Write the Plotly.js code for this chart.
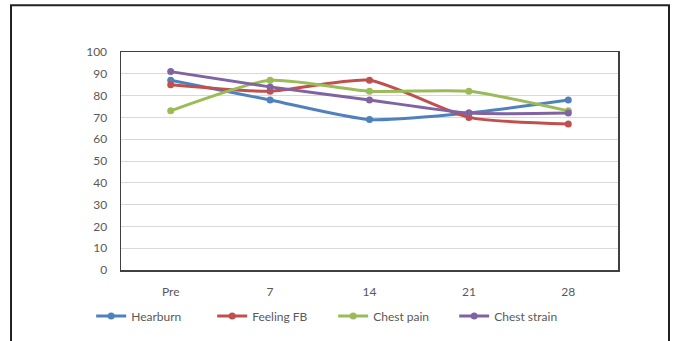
<!DOCTYPE html>
<html>
<head>
<meta charset="utf-8">
<script src="https://cdn.plot.ly/plotly-3.0.1.min.js"></script>
<style>
html,body{margin:0;padding:0;background:#fff;}
#chart{width:675px;height:341px;}
</style>
</head>
<body>
<div id="chart"></div>
<script>
const categories = ["Pre", "7", "14", "21", "28"];
const hearburn = [87, 78, 69, 72, 78];
const feelingFB = [85, 82, 87, 70, 67];
const chestPain = [73, 87, 82, 82, 73];
const chestStrain = [91, 84, 78, 72, 72];
const seriesNames = ["Hearburn", "Feeling FB", "Chest pain", "Chest strain"];
const seriesColors = ["#4F81BD", "#C0504D", "#9BBB59", "#8064A2"];
const seriesValues = [hearburn, feelingFB, chestPain, chestStrain];

const traces = seriesValues.map((vals, i) => ({
  type: "scatter",
  mode: "lines+markers",
  x: categories,
  y: vals,
  name: seriesNames[i],
  line: {color: seriesColors[i], width: 3, shape: "spline", smoothing: 0.6},
  marker: {color: seriesColors[i], size: 7}
}));

const layout = {
  width: 675, height: 341,
  margin: {l: 121, r: 57, t: 52, b: 70},
  paper_bgcolor: "#fff", plot_bgcolor: "#fff",
  font: {family: "Lato, 'Open Sans', sans-serif", size: 12, color: "#595959"},
  showlegend: true,
  legend: {orientation: "h", x: -0.06, xanchor: "left", y: -0.205, yanchor: "middle",
           font: {size: 12, color: "#595959"}, itemwidth: 30, entrywidth: 76, tracegroupgap: 0},
  xaxis: {type: "category", range: [-0.5, 4.5], showgrid: false, zeroline: false, showline: true, mirror: true,
          linecolor: "#404040", linewidth: 1.5, ticks: "", ticklabelstandoff: 10},
  yaxis: {range: [0, 100], dtick: 10, showgrid: true, gridcolor: "#d9d9d9", gridwidth: 1,
          zeroline: false, showline: true, mirror: true, linecolor: "#404040", linewidth: 1.5,
          ticks: "", ticklabelstandoff: 10},
  shapes: [{type: "rect", xref: "paper", yref: "paper",
            x0: -0.2213, x1: 1.1026, y0: -0.40, y1: 1.2146,
            line: {color: "#222", width: 2}, fillcolor: "rgba(0,0,0,0)", layer: "below"}]
};

Plotly.newPlot("chart", traces, layout, {displayModeBar: false, staticPlot: true});
</script>
</body>
</html>
